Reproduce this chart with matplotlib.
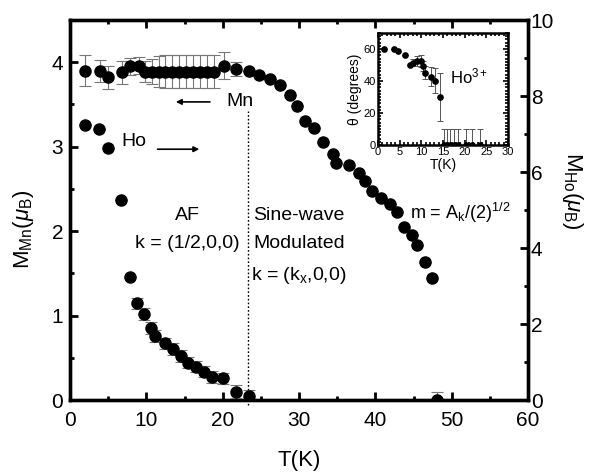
import matplotlib
matplotlib.use("Agg")
import matplotlib.pyplot as plt
from matplotlib.ticker import MultipleLocator

plt.rcParams['font.family'] = ['Liberation Sans', 'DejaVu Sans']
plt.rcParams['mathtext.fontset'] = 'custom'
plt.rcParams['mathtext.rm'] = 'Liberation Sans'
plt.rcParams['mathtext.it'] = 'Liberation Sans:italic'

# Mn moment (left axis)
t_mn = [2.0, 3.9, 5.0, 6.8, 7.9, 9.0, 9.8, 10.7, 11.6, 12.5, 13.4, 14.3, 15.2,
        16.1, 17.0, 17.9, 18.8, 20.2, 21.7, 23.5, 24.8, 26.2, 27.5, 28.8, 29.7,
        30.8, 31.9, 33.2, 34.5, 34.9, 36.5, 37.8, 38.7, 39.6, 40.7, 41.9, 42.9,
        43.7, 44.8, 45.5, 46.5, 47.4, 48.1]
m_mn = [3.90, 3.90, 3.82, 3.88, 3.95, 3.96, 3.89, 3.89, 3.89, 3.89, 3.89, 3.89,
        3.89, 3.89, 3.89, 3.89, 3.89, 3.96, 3.92, 3.90, 3.85, 3.80, 3.73, 3.61,
        3.48, 3.30, 3.22, 3.05, 2.91, 2.81, 2.78, 2.69, 2.59, 2.48, 2.39, 2.32,
        2.23, 2.05, 1.96, 1.84, 1.64, 1.44, 0.0]
err_mn = [0.18, 0.13, 0.14, 0.14, 0.10, 0.10, 0.12, 0.15, 0.18, 0.20, 0.20, 0.20,
          0.20, 0.20, 0.20, 0.20, 0.20, 0.16, 0.08, 0, 0, 0, 0, 0, 0,
          0, 0, 0, 0, 0, 0, 0, 0, 0, 0, 0, 0,
          0, 0, 0, 0, 0, 0.10]

# Ho moment (right axis)
t_ho = [2.0, 3.85, 4.95, 6.65, 7.8, 8.83, 9.75, 10.6, 11.15, 12.4, 13.5, 14.5,
        15.5, 16.5, 17.6, 18.6, 20.0, 21.7, 23.5]
m_ho = [7.24, 7.13, 6.62, 5.26, 3.25, 2.54, 2.26, 1.89, 1.68, 1.49, 1.34, 1.16,
        0.98, 0.88, 0.75, 0.61, 0.57, 0.22, 0.11]
err_ho = [0, 0, 0, 0, 0, 0.15, 0.15, 0.15, 0.15, 0.15, 0.15, 0.15,
          0.15, 0.15, 0.15, 0.15, 0.15, 0.18, 0.15]

# inset: Ho3+ moment angle
t_th = [1.4, 3.7, 4.7, 6.2, 7.4, 8.15, 8.9, 9.85, 10.3, 10.85, 12.2, 13.15, 14.3,
        15.2, 16.0, 16.6, 17.5, 18.4, 20.3, 21.6, 23.5]
theta = [60, 60, 59, 56, 50, 51.5, 52.5, 52.5, 49.4, 45.2, 42.7, 40.2, 30.2,
         0, 0, 0, 0, 0, 0, 0, 0]
err_th = [0, 0, 0, 0, 0, 2, 3, 4, 3, 4, 6, 8, 15,
          10, 10, 10, 10, 10, 10, 10, 10]

T_SPLIT = 23.3

fig = plt.figure(figsize=(6.0, 4.73), dpi=100)
ax = fig.add_axes([0.1167, 0.1543, 0.7633, 0.8034])
ax2 = ax.twinx()

ax.errorbar(t_mn, m_mn, yerr=err_mn, fmt='o', color='black', ms=8,
            ecolor='#777777', elinewidth=0.8, capsize=4.5, capthick=0.8,
            clip_on=True, zorder=3)
ax2.errorbar(t_ho, m_ho, yerr=err_ho, fmt='o', color='black', ms=8,
             ecolor='#777777', elinewidth=0.8, capsize=4.5, capthick=0.8,
             zorder=3)

ax.set_xlim(0, 60)
ax.set_ylim(0, 4.5)
ax2.set_ylim(0, 10)

ax.vlines(T_SPLIT, -0.06, 3.42, colors='black', linestyles=(0, (1.2, 1.5)),
          linewidth=1.0, clip_on=False)

for a in (ax, ax2):
    for s in a.spines.values():
        s.set_linewidth(2.4)

ax.xaxis.set_major_locator(MultipleLocator(10))
ax.xaxis.set_minor_locator(MultipleLocator(5))
ax.yaxis.set_major_locator(MultipleLocator(1))
ax.yaxis.set_minor_locator(MultipleLocator(0.5))
ax2.yaxis.set_major_locator(MultipleLocator(2))
ax2.yaxis.set_minor_locator(MultipleLocator(1))
ax.tick_params(which='both', direction='in', top=True, right=False,
               labelsize=15, width=2)
ax.tick_params(which='major', length=6, pad=5)
ax.tick_params(axis='x', which='major', pad=8)
ax.tick_params(which='minor', length=3)
ax2.tick_params(which='both', direction='in', labelsize=15, width=2)
ax2.tick_params(which='major', length=6, pad=2)
ax2.tick_params(which='minor', length=3)

ax.set_xlabel('T(K)', fontsize=16, labelpad=14)
ax.set_ylabel(r'M$_{\rm Mn}$($\mu_{\rm B}$)', fontsize=16)
ax.yaxis.set_label_coords(-0.075, 0.45)
ax2.set_ylabel(r'M$_{\rm Ho}$($\mu_{\rm B}$)', fontsize=16, rotation=270)
ax2.yaxis.set_label_coords(1.125, 0.55)

# annotations
ax.annotate('', xy=(13.5, 3.53), xytext=(18.7, 3.53),
            arrowprops=dict(arrowstyle='-|>', color='black', lw=1.2,
                            mutation_scale=8))
ax.text(22.3, 3.53, 'Mn', fontsize=14, ha='center', va='center')
ax.text(8.4, 3.06, 'Ho', fontsize=14, ha='center', va='center')
ax.annotate('', xy=(17.3, 2.97), xytext=(11.1, 2.97),
            arrowprops=dict(arrowstyle='-|>', color='black', lw=1.2,
                            mutation_scale=8))
ax.text(15.4, 2.19, 'AF', fontsize=14, ha='center', va='center')
ax.text(15.4, 1.85, 'k = (1/2,0,0)', fontsize=14, ha='center', va='center')
ax.text(30.0, 2.19, 'Sine-wave', fontsize=14, ha='center', va='center')
ax.text(30.0, 1.85, 'Modulated', fontsize=14, ha='center', va='center')
ax.text(30.0, 1.47, r'k = (k$_{\rm x}$,0,0)', fontsize=14, ha='center',
        va='center')
ax.text(44.6, 2.22, r'm = A$_{\rm k}$/(2)$^{1/2}$', fontsize=13,
        ha='left', va='center')

# inset
ins = fig.add_axes([0.63, 0.6934, 0.2167, 0.2368])
ins.errorbar(t_th, theta, yerr=err_th, fmt='o', color='black', ms=3.8,
             ecolor='#555555', elinewidth=0.7, capsize=2, capthick=0.7)
ins.set_xlim(0, 30)
ins.set_ylim(0, 70)
ins.xaxis.set_major_locator(MultipleLocator(5))
ins.xaxis.set_minor_locator(MultipleLocator(1))
ins.yaxis.set_major_locator(MultipleLocator(20))
ins.yaxis.set_minor_locator(MultipleLocator(2))
ins.tick_params(which='both', direction='in', top=True, right=True,
                labelsize=8, width=1.2, pad=1.5)
ins.tick_params(which='major', length=3.5)
ins.tick_params(which='minor', length=2)
for s in ins.spines.values():
    s.set_linewidth(1.8)
ins.set_xlabel('T(K)', fontsize=10, labelpad=1)
ins.set_ylabel('θ (degrees)', fontsize=10, labelpad=1)
ins.text(21, 43, r'Ho$^{3+}$', fontsize=12, ha='center', va='center')

fig.savefig('out.png', dpi=100)
